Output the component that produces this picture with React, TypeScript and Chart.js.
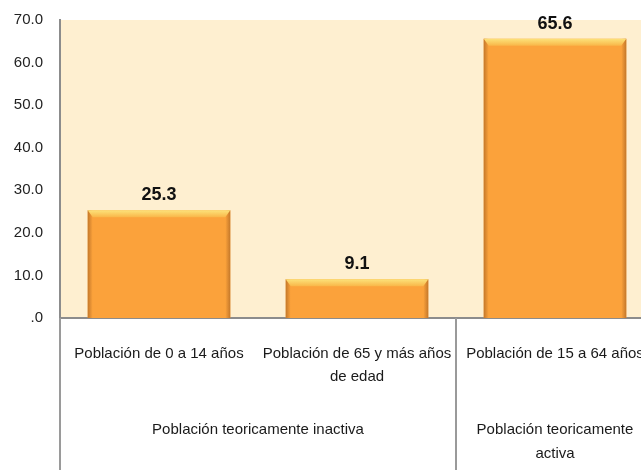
import React, { useEffect, useRef } from "react";
import { Chart, registerables } from "chart.js";

Chart.register(...registerables);

const categories: (string | string[])[] = [
  "Población de 0 a 14 años",
  ["Población de 65 y más años", "de edad"],
  "Población de 15 a 64 años",
];
const values: number[] = [25.3, 9.1, 65.6];
const groupLabels: string[][] = [
  ["Población teoricamente inactiva"],
  ["Población teoricamente", "activa"],
];
const groupCenters: number[] = [0.5, 2];
const groupBoundaries: number[] = [-0.5, 1.5];
const yTicks: number[] = [0, 10, 20, 30, 40, 50, 60, 70];

const FONT = "'Liberation Sans', Arial, sans-serif";

const bgPlugin = {
  id: "bgPlugin",
  beforeDraw(chart: any) {
    const { ctx, chartArea } = chart;
    ctx.save();
    ctx.fillStyle = "#FEEFD0";
    ctx.fillRect(chartArea.left, chartArea.top, chartArea.right - chartArea.left, chartArea.bottom - chartArea.top);
    ctx.restore();
  },
};

const bevelPlugin = {
  id: "bevelPlugin",
  afterDatasetsDraw(chart: any) {
    const { ctx } = chart;
    const meta = chart.getDatasetMeta(0);
    ctx.save();
    meta.data.forEach((bar: any, i: number) => {
      const { x, y, base, width } = bar.getProps(["x", "y", "base", "width"], true);
      const l = x - width / 2;
      const r = x + width / 2;
      const gl = ctx.createLinearGradient(l, 0, l + 5, 0);
      gl.addColorStop(0, "rgba(190,115,40,0.9)");
      gl.addColorStop(1, "rgba(190,115,40,0)");
      ctx.fillStyle = gl;
      ctx.fillRect(l, y, 5, base - y);
      const gr = ctx.createLinearGradient(r, 0, r - 5, 0);
      gr.addColorStop(0, "rgba(190,115,40,0.9)");
      gr.addColorStop(1, "rgba(190,115,40,0)");
      ctx.fillStyle = gr;
      ctx.fillRect(r - 5, y, 5, base - y);
      const gt = ctx.createLinearGradient(0, y, 0, y + 7);
      gt.addColorStop(0, "#FCE27A");
      gt.addColorStop(1, "#F9B648");
      ctx.fillStyle = gt;
      ctx.beginPath();
      ctx.moveTo(l, y);
      ctx.lineTo(r, y);
      ctx.lineTo(r - 5, y + 7);
      ctx.lineTo(l + 5, y + 7);
      ctx.closePath();
      ctx.fill();
      ctx.fillStyle = "#111";
      ctx.font = `bold 18px ${FONT}`;
      ctx.textAlign = "center";
      ctx.textBaseline = "bottom";
      ctx.fillText(values[i].toFixed(1), x, y - 6);
    });
    ctx.restore();
  },
};

const groupPlugin = {
  id: "groupPlugin",
  afterDraw(chart: any) {
    const { ctx, chartArea, height } = chart;
    const xs = chart.scales.x;
    ctx.save();
    ctx.strokeStyle = "#9A9A9A";
    ctx.lineWidth = 2;
    groupBoundaries.forEach((b) => {
      const px = Math.round(xs.getPixelForValue(b));
      ctx.beginPath();
      ctx.moveTo(px, chartArea.bottom);
      ctx.lineTo(px, height);
      ctx.stroke();
    });
    ctx.fillStyle = "#1a1a1a";
    ctx.font = `15px ${FONT}`;
    ctx.textAlign = "center";
    ctx.textBaseline = "middle";
    groupCenters.forEach((c, i) => {
      const px = xs.getPixelForValue(c);
      groupLabels[i].forEach((line, j) => {
        ctx.fillText(line, px, chartArea.bottom + 112 + j * 24);
      });
    });
    ctx.restore();
  },
};

const noPad = (scale: any) => {
  scale.paddingLeft = 0;
  scale.paddingRight = 0;
  scale.paddingTop = 0;
  scale.paddingBottom = 0;
};

export default function App() {
  const ref = useRef<HTMLCanvasElement | null>(null);
  useEffect(() => {
    if (!ref.current) return;
    const chart = new Chart(ref.current, {
      type: "bar",
      data: {
        labels: categories as any,
        datasets: [
          {
            data: values,
            backgroundColor: "#FBA23B",
            borderWidth: 0,
            barPercentage: 0.72,
            categoryPercentage: 1,
          },
        ],
      },
      options: {
        responsive: false,
        animation: false,
        devicePixelRatio: 1,
        layout: { padding: { top: 20, right: 0, left: 0, bottom: 0 } },
        plugins: { legend: { display: false }, tooltip: { enabled: false } },
        scales: {
          x: {
            type: "category",
            position: "bottom",
            offset: true,
            grid: { display: false, drawTicks: false },
            border: { display: true, color: "#8C8C8C", width: 2 },
            ticks: {
              color: "#1a1a1a",
              font: { family: FONT, size: 15, lineHeight: 1.5 },
              padding: 25,
              maxRotation: 0,
              autoSkip: false,
            },
            afterFit(scale: any) {
              scale.height = 152;
              noPad(scale);
            },
          },
          y: {
            min: 0,
            max: 70,
            grid: { display: false, drawTicks: false },
            border: { display: true, color: "#8C8C8C", width: 2 },
            afterBuildTicks(scale: any) {
              scale.ticks = yTicks.map((v) => ({ value: v }));
            },
            ticks: {
              color: "#222",
              font: { family: FONT, size: 15 },
              padding: 17,
              callback: (v: any) => (Number(v) === 0 ? ".0" : Number(v).toFixed(1)),
            },
            afterFit(scale: any) {
              scale.width = 60;
              noPad(scale);
            },
          },
        },
      },
      plugins: [bgPlugin, bevelPlugin, groupPlugin],
    } as any);
    return () => chart.destroy();
  }, []);

  return (
    <div
      style={{
        position: "fixed",
        left: 0,
        top: 0,
        width: 641,
        height: 470,
        overflow: "hidden",
        background: "#fff",
      }}
    >
      <canvas ref={ref} width={654} height={470} style={{ display: "block" }} />
    </div>
  );
}
